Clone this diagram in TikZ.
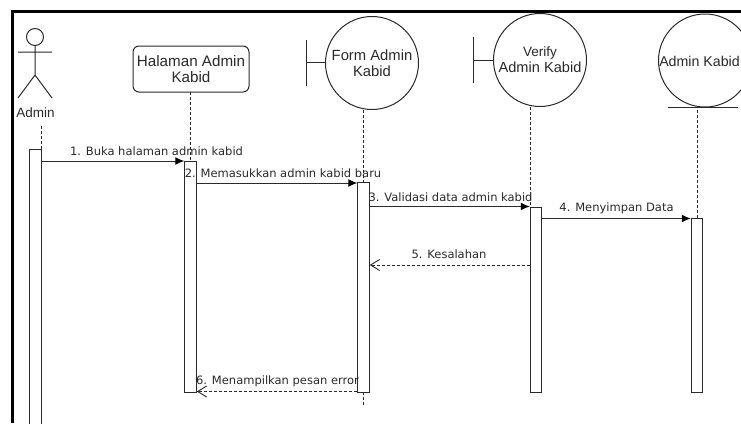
\documentclass[tikz,border=0pt]{standalone}
\usepackage{fontspec}
\setmainfont{Liberation Sans}
\newfontfamily\msgfont{DejaVu Sans}
\usetikzlibrary{arrows.meta,calc}
\definecolor{ink}{HTML}{2A2A2A}
\tikzset{
  x=1pt,y=-1pt,
  shapeline/.style={draw=ink,line width=1pt},
  head/.style={text=ink,align=center,inner sep=0pt},
  circ/.style={shapeline,circle,minimum size=93pt,inner sep=0pt,head},
  lifeline/.style={draw=ink,line width=1pt,dash pattern=on 3pt off 2pt},
  activation/.style={shapeline,fill=white,rectangle,minimum width=11.5pt,inner sep=0pt},
  msg/.style={draw=ink,line width=1pt,-{Latex[length=9pt,width=8pt,black]}},
  ret/.style={draw=ink,line width=0.9pt,dash pattern=on 3pt off 2pt,-{Straight Barb[length=9pt,width=11pt]}},
  msglabel/.style={font=\msgfont\fontsize{11.5}{13}\selectfont,text=ink,inner sep=0pt},
}
\begin{document}
\begin{tikzpicture}
\clip (0,0) rectangle (741,423);
\fill[white] (0,0) rectangle (741,423);
% outer frame
\draw[black,line width=3pt] (12.5,423) -- (12.5,11) -- (741,11);

% actor
\node[shapeline,circle,minimum size=17pt,inner sep=0pt] (actorhead) at (35,37) {};
\coordinate (hip) at (35,75);
\coordinate (armL) at (18,52);
\coordinate (armR) at (52,52);
\coordinate (legL) at (18,98);
\coordinate (legR) at (52,98);
\draw[shapeline] (actorhead.south) -- (hip) (armL) -- (armR) (legL) -- (hip) -- (legR);
\node[head,font=\fontsize{13.5}{16}\selectfont] (adminlabel) at (35.5,113) {Admin};

% heads
\node[shapeline,rounded corners=6pt,minimum width=116pt,minimum height=46pt,inner sep=0pt,head,font=\fontsize{15.2}{16}\selectfont] (halaman) at (191,69) {Halaman Admin\\Kabid};
\node[circ,font=\fontsize{14.8}{16}\selectfont] (form) at (372,63) {Form Admin\\Kabid};
\node[circ,font=\fontsize{14.6}{16}\selectfont] (verify) at (540,60) {\fontsize{13.5}{16}\selectfont Verify\\Admin Kabid};
\node[circ] (entity) at (705,60.5) {};
\node[head,font=\fontsize{14.2}{16}\selectfont] (entitylabel) at (699.5,61) {Admin Kabid};

% boundary bars
\coordinate (formbarT) at (306,40);
\coordinate (formbarB) at (306,86);
\coordinate (verbarT) at (473,37);
\coordinate (verbarB) at (473,83);
\draw[shapeline] (formbarT) -- (formbarB) (306,62.5) -- (form.west |- 0,62.5);
\draw[shapeline] (verbarT) -- (verbarB) (473,60) -- (verify.west);
\coordinate (entL) at (668,107);
\coordinate (entR) at (738,107);
\draw[shapeline] (entL) -- (entR);

% lifelines
\coordinate (adminTop) at (41,126);
\draw[lifeline] (adminTop) -- (41,149);
\draw[lifeline] (190.5,92) -- (190.5,161);
\draw[lifeline] (363.5,110) -- (363.5,182);
\draw[lifeline] (530,107) -- (530,207);
\draw[lifeline] (697,110) -- (697,218);
\draw[lifeline] (363.5,392) -- (363.5,405);

% activations
\node[activation,minimum height=284pt,anchor=north] (actA) at (35.5,149) {};
\node[activation,minimum height=230.5pt,anchor=north] (actH) at (190.5,161) {};
\node[activation,minimum height=210pt,anchor=north] (actF) at (363.5,182) {};
\node[activation,minimum height=185pt,anchor=north] (actV) at (536,207) {};
\node[activation,minimum height=174pt,anchor=north] (actE) at (697,218) {};

% messages
\draw[msg] (actA.east |- 0,161) -- (actH.west |- 0,161);
\draw[msg] (actH.east |- 0,183) -- (actF.west |- 0,183);
\draw[msg] (actF.east |- 0,206.5) -- (actV.west |- 0,206.5);
\draw[msg] (actV.east |- 0,218.5) -- (actE.west |- 0,218.5);
\draw[ret] (actV.west |- 0,265) -- (actF.east |- 0,265);
\draw[ret] (actF.west |- 0,391.5) -- (actH.east |- 0,391.5);

% labels
\node[msglabel] (m1) at (156.5,151) {1. Buka halaman admin kabid};
\node[msglabel] (m2) at (283,173.5) {2. Memasukkan admin kabid baru};
\node[msglabel] (m3) at (450.5,197) {3. Validasi data admin kabid};
\node[msglabel] (m4) at (616.5,208) {4. Menyimpan Data};
\node[msglabel] (m5) at (449,254.5) {5. Kesalahan};
\node[msglabel] (m6) at (277.5,381.5) {6. Menampilkan pesan error};
\end{tikzpicture}
\end{document}
